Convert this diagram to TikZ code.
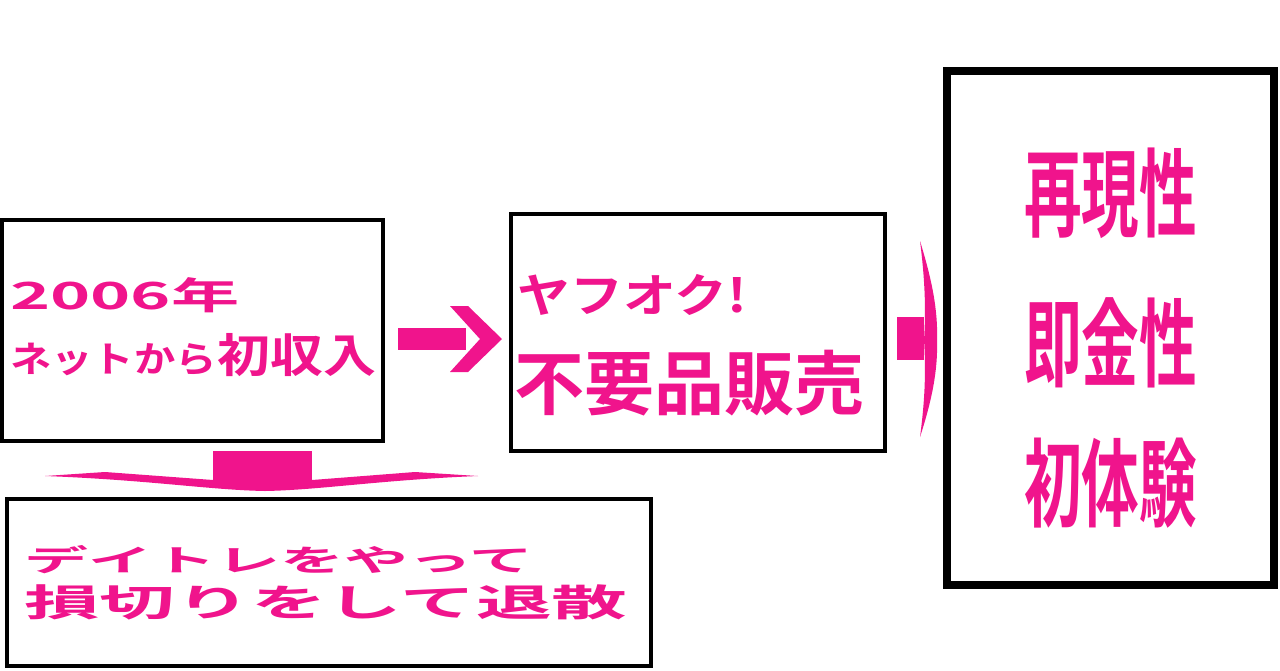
\documentclass[tikz,border=0pt]{standalone}
\usepackage{fontspec}
\newfontfamily\jp{Noto Sans CJK JP Bold}
\definecolor{pk}{RGB}{240,20,140}
\begin{document}
\begin{tikzpicture}[x=1pt,y=-1pt,
  box/.style={draw=black,line width=4pt},
  txt/.style={text=pk,font=\jp,anchor=west,inner sep=0pt}]
\useasboundingbox[fill=white] (0,0) rectangle (1280,670);
\draw[box] (2,220) rectangle (383,441) coordinate (A);
\draw[box] (511,214) rectangle (885,451) coordinate (B);
\draw[box,line width=8pt] (947,71) rectangle (1274,585) coordinate (C);
\draw[box] (7,499) rectangle (651,666) coordinate (D);
% texts
\node[txt] (a1) at (10,295) {\fontsize{44}{44}\selectfont\scalebox{1.55}[0.85]{2006年}};
\node[txt] (a2) at (10,355) {\fontsize{46}{46}\selectfont\scalebox{1.15}[1]{{\fontsize{36}{36}\selectfont ネットから}初収入}};
\node[txt] (b1) at (517,295) {\fontsize{46}{46}\selectfont\scalebox{1.15}[1]{ヤフオク!}};
\node[txt] (b2) at (514,383) {\fontsize{70}{70}\selectfont 不要品販売};
\node[txt] (c1) at (1024,193) {\fontsize{96}{96}\selectfont\scalebox{0.6}[1]{再現性}};
\node[txt] (c2) at (1024,343) {\fontsize{96}{96}\selectfont\scalebox{0.6}[1]{即金性}};
\node[txt] (c3) at (1024,483) {\fontsize{96}{96}\selectfont\scalebox{0.6}[1]{初体験}};
\node[txt] (d1) at (24,560) {\fontsize{40}{40}\selectfont\scalebox{1.6}[0.75]{デイトレをやって}};
\node[txt] (d2) at (24,602) {\fontsize{44}{44}\selectfont\scalebox{1.72}[0.85]{損切りをして退散}};
% arrow A->B
\fill[pk] (398,328) rectangle (466,350);
\fill[pk] (450,306) -- (468,306) -- (502,339) -- (468,372) -- (450,372) -- (480,339) -- cycle;
% arrow B->C
\fill[pk] (897,317) rectangle (924,360);
\fill[pk] (920,241) .. controls (932,280) and (938,310) .. (937,340)
  .. controls (938,370) and (932,400) .. (920,437)
  .. controls (925,400) and (926,370) .. (924,340)
  .. controls (926,310) and (925,280) .. cycle;
% arrow A->D
\fill[pk] (213,451) rectangle (312,480);
\fill[pk] (45,476) -- (105,472) -- (213,480) -- (312,480) -- (415,472) -- (478,476)
  .. controls (380,480) and (320,490) .. (265,491) .. controls (210,490) and (150,480) .. cycle;
\end{tikzpicture}
\end{document}
